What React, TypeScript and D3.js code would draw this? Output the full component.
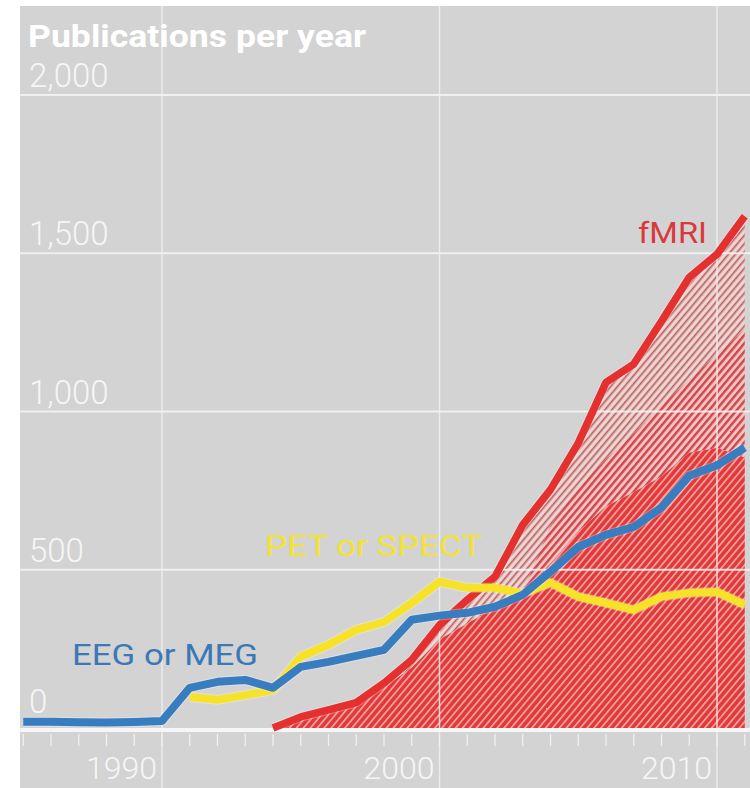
import { useEffect, useRef } from 'react';
import * as d3 from 'd3';

// publications per year
const years = [1985, 1986, 1987, 1988, 1989, 1990, 1991, 1992, 1993, 1994, 1995, 1996, 1997, 1998,
  1999, 2000, 2001, 2002, 2003, 2004, 2005, 2006, 2007, 2008, 2009, 2010, 2011];
const eegValues = [20, 20, 18, 17, 19, 22, 127, 146, 152, 127, 193, 209, 228, 247,
  342, 355, 364, 383, 421, 494, 572, 610, 635, 697, 797, 830, 886];

const petYears = [1991, 1992, 1993, 1994, 1995, 1996, 1997, 1998, 1999, 2000, 2001,
  2002, 2003, 2004, 2005, 2006, 2007, 2008, 2009, 2010, 2011];
const petValues = [98, 89, 104, 120, 225, 263, 310, 335, 395, 462, 443,
  443, 425, 459, 415, 395, 373, 415, 427, 430, 389];

const fmriYears = [1994, 1995, 1996, 1997, 1998, 1999, 2000, 2001, 2002, 2003, 2004,
  2005, 2006, 2007, 2008, 2009, 2010, 2011];
const fmriTotal = [0, 35, 57, 80, 142, 215, 325, 405, 478, 642, 753,
  900, 1092, 1150, 1285, 1424, 1497, 1617];
const fmriMid = [0, 30, 50, 72, 130, 190, 280, 330, 380, 430, 640,
  760, 850, 930, 1020, 1100, 1180, 1260];
const fmriCore = [0, 30, 50, 72, 130, 190, 280, 330, 380, 430, 520,
  620, 700, 745, 795, 870, 885, 855];

const yTicks = [0, 500, 1000, 1500, 2000];
const yTickLabels = ['0', '500', '1,000', '1,500', '2,000'];
const xTickLabels = [1990, 2000, 2010];

export default function App() {
  const svgRef = useRef<SVGSVGElement>(null);

  useEffect(() => {
    document.body.style.margin = '0';
    const width = 750;
    const height = 788;
    const panelLeft = 20;
    const panelTop = 6;
    const lightFont = 'Roboto, "Liberation Sans", sans-serif';

    const svg = d3.select(svgRef.current)
      .attr('width', width)
      .attr('height', height);
    svg.selectAll('*').remove();

    const x = d3.scaleLinear().domain([1990, 2010]).range([162, 717]);
    const y = d3.scaleLinear().domain([0, 2000]).range([728, 95]);

    // hatch patterns
    const defs = svg.append('defs');
    const hatch = (id: string, bg: string, stripes: { color: string; w: number; off: number }[]) => {
      const size = 5.3;
      const p = defs.append('pattern')
        .attr('id', id)
        .attr('patternUnits', 'userSpaceOnUse')
        .attr('width', size)
        .attr('height', 10)
        .attr('patternTransform', 'rotate(40)');
      p.append('rect').attr('width', size).attr('height', 10).attr('fill', bg);
      stripes.forEach(s => {
        p.append('rect').attr('x', s.off).attr('width', s.w).attr('height', 10).attr('fill', s.color);
      });
    };
    hatch('hatch-core', '#e2393b', [{ color: '#f5a9a5', w: 1.6, off: 0 }]);
    hatch('hatch-mid', '#eec6c3', [{ color: '#d6444a', w: 2.4, off: 0 }]);
    hatch('hatch-pale', '#d6c4c2', [
      { color: '#cf5455', w: 1.3, off: 0 },
      { color: '#f3dcd9', w: 1.6, off: 2.6 },
    ]);

    // panel
    svg.append('rect')
      .attr('x', panelLeft)
      .attr('y', panelTop)
      .attr('width', width - panelLeft)
      .attr('height', height - panelTop)
      .attr('fill', '#d3d3d3');

    // fMRI areas
    const rows = fmriYears.map((yr, i) => ({
      year: yr, total: fmriTotal[i], mid: fmriMid[i], core: fmriCore[i],
    }));
    type Row = typeof rows[number];
    const band = (lo: (d: Row) => number, hi: (d: Row) => number) => d3.area<Row>()
      .x(d => x(d.year))
      .y0(d => y(lo(d)))
      .y1(d => y(hi(d)));

    svg.append('path').attr('d', band(d => d.mid, d => d.total)(rows)).attr('fill', 'url(#hatch-pale)');
    svg.append('path').attr('d', band(d => d.core, d => d.mid)(rows)).attr('fill', 'url(#hatch-mid)');
    svg.append('path').attr('d', band(() => 0, d => d.core)(rows)).attr('fill', 'url(#hatch-core)');

    // grid
    svg.selectAll('.hgrid')
      .data(yTicks.filter(t => t > 0))
      .join('line')
      .attr('class', 'hgrid')
      .attr('x1', panelLeft)
      .attr('x2', width)
      .attr('y1', d => y(d))
      .attr('y2', d => y(d))
      .attr('stroke', '#f4f4f4')
      .attr('stroke-opacity', 0.85)
      .attr('stroke-width', 2);

    svg.selectAll('.vgrid')
      .data(xTickLabels)
      .join('line')
      .attr('class', 'vgrid')
      .attr('x1', d => x(d))
      .attr('x2', d => x(d))
      .attr('y1', panelTop)
      .attr('y2', height)
      .attr('stroke', '#efefef')
      .attr('stroke-opacity', 0.85)
      .attr('stroke-width', 1.5);

    // baseline + year ticks
    svg.append('line')
      .attr('x1', panelLeft)
      .attr('x2', width)
      .attr('y1', y(0) + 2)
      .attr('y2', y(0) + 2)
      .attr('stroke', '#f6f6f6')
      .attr('stroke-width', 4);

    svg.selectAll('.xtick')
      .data(years)
      .join('line')
      .attr('class', 'xtick')
      .attr('x1', d => x(d))
      .attr('x2', d => x(d))
      .attr('y1', 734)
      .attr('y2', 746)
      .attr('stroke', '#f2f2f2')
      .attr('stroke-width', 1.2);

    // lines
    const line = d3.line<[number, number]>()
      .x(d => x(d[0]))
      .y(d => y(d[1]));

    const series = [
      { pts: fmriYears.map((yr, i) => [yr, fmriTotal[i]] as [number, number]), color: '#e4312f', w: 7.5 },
      { pts: petYears.map((yr, i) => [yr, petValues[i]] as [number, number]), color: '#f7e22a', w: 8 },
      { pts: years.map((yr, i) => [yr, eegValues[i]] as [number, number]), color: '#387dc0', w: 8 },
    ];
    series.forEach(s => {
      svg.append('path')
        .attr('d', line(s.pts))
        .attr('fill', 'none')
        .attr('stroke', '#ffffff')
        .attr('stroke-opacity', 0.3)
        .attr('stroke-width', s.w + 2)
        .attr('stroke-linejoin', 'round');
      svg.append('path')
        .attr('d', line(s.pts))
        .attr('fill', 'none')
        .attr('stroke', s.color)
        .attr('stroke-width', s.w)
        .attr('stroke-linejoin', 'round');
    });

    // y labels
    svg.selectAll('.ylabel')
      .data(yTicks)
      .join('text')
      .attr('class', 'ylabel')
      .attr('x', 29)
      .attr('y', d => y(d) - (d === 0 ? 15 : 8))
      .attr('font-family', lightFont)
      .attr('font-weight', 300)
      .attr('font-size', 33)
      .attr('fill', '#f6f6f6')
      .text((d, i) => yTickLabels[i]);

    // x labels
    svg.selectAll('.xlabel')
      .data(xTickLabels)
      .join('text')
      .attr('class', 'xlabel')
      .attr('x', d => x(d) - 5)
      .attr('y', 779)
      .attr('text-anchor', 'end')
      .attr('font-family', lightFont)
      .attr('font-weight', 300)
      .attr('font-size', 32)
      .attr('fill', '#f6f6f6')
      .text(d => String(d));

    // title
    svg.append('text')
      .attr('x', 28)
      .attr('y', 47)
      .attr('font-family', lightFont)
      .attr('font-weight', 700)
      .attr('font-size', 31)
      .attr('textLength', 338)
      .attr('lengthAdjust', 'spacingAndGlyphs')
      .attr('fill', '#ffffff')
      .text('Publications per year');

    // series labels
    const labels = [
      { text: 'fMRI', x: 638, y: 243, len: 69, color: '#d9393d' },
      { text: 'PET or SPECT', x: 265, y: 556, len: 217, color: '#f3e236' },
      { text: 'EEG or MEG', x: 72, y: 665, len: 186, color: '#3b78b8' },
    ];
    svg.selectAll('.slabel')
      .data(labels)
      .join('text')
      .attr('class', 'slabel')
      .attr('x', d => d.x)
      .attr('y', d => d.y)
      .attr('font-family', lightFont)
      .attr('font-size', 29)
      .attr('textLength', d => d.len)
      .attr('lengthAdjust', 'spacingAndGlyphs')
      .attr('fill', d => d.color)
      .text(d => d.text);
  }, []);

  return <svg ref={svgRef}></svg>;
}
